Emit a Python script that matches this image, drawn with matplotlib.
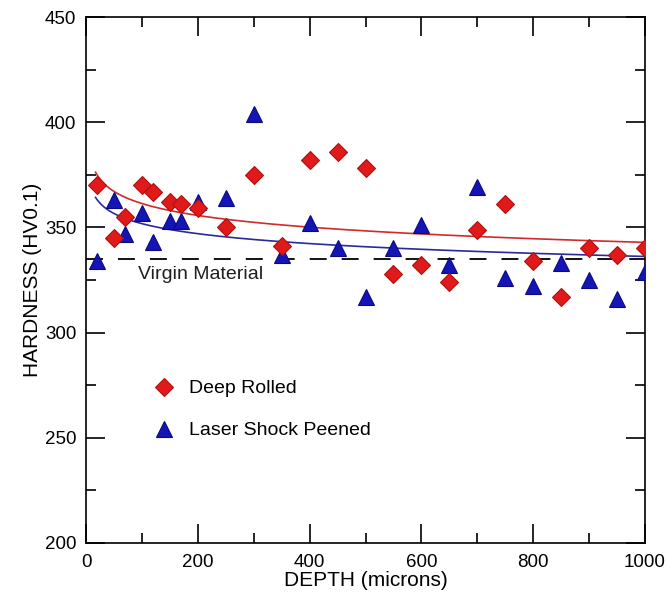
import numpy as np
import matplotlib
matplotlib.use("Agg")
import matplotlib.pyplot as plt
from matplotlib.ticker import MultipleLocator

plt.rcParams['font.family'] = ['Liberation Sans', 'DejaVu Sans']

# ---- data ----
dr_depth = [20, 50, 70, 100, 120, 150, 170, 200, 250, 300, 350, 400, 450, 500,
            550, 600, 650, 700, 750, 800, 850, 900, 950, 1000]
dr_hard = [370, 345, 355, 370, 367, 362, 361, 359, 350, 375, 341, 382, 386, 378,
           328, 332, 324, 349, 361, 334, 317, 340, 337, 340]

lsp_depth = [20, 50, 70, 100, 120, 150, 170, 200, 250, 300, 350, 400, 450, 500,
             550, 600, 650, 700, 750, 800, 850, 900, 950, 1000]
lsp_hard = [334, 363, 347, 357, 343, 353, 353, 362, 364, 404, 337, 352, 340, 317,
            340, 351, 332, 369, 326, 322, 333, 325, 316, 329]

virgin_hardness = 335
labels = ["Deep Rolled", "Laser Shock Peened"]

# ---- figure ----
fig = plt.figure(figsize=(6.67, 5.97), dpi=100)
ax = fig.add_axes([0.129, 0.0905, 0.838, 0.881])

# power-law trend fits
def powfit(x, y):
    b, loga = np.polyfit(np.log(x), np.log(y), 1)
    return np.exp(loga), b

xs = np.linspace(17, 1000, 400)
a, b = powfit(dr_depth, dr_hard)
ax.plot(xs, a * xs ** b, color='#d02a2a', lw=1.2, zorder=2)
a, b = powfit(lsp_depth, lsp_hard)
ax.plot(xs, a * xs ** b, color='#2a2a9a', lw=1.2, zorder=2)

ax.plot([0, 1000], [virgin_hardness, virgin_hardness], color='black', lw=1.3,
        dashes=(9.4, 8.3), zorder=1)
ax.text(93, 327.5, "Virgin Material", fontsize=14, color='#1e1e1e', va='center')

ax.plot(dr_depth, dr_hard, linestyle='none', marker='D', ms=9,
        mfc='#e01a1a', mec='#b01010', mew=0.8, zorder=4, label=labels[0])
ax.plot(lsp_depth, lsp_hard, linestyle='none', marker='^', ms=11,
        mfc='#1515b5', mec='#0a0a80', mew=0.8, zorder=3, label=labels[1])

ax.set_xlim(0, 1000)
ax.set_ylim(200, 450)
ax.xaxis.set_major_locator(MultipleLocator(200))
ax.xaxis.set_minor_locator(MultipleLocator(100))
ax.yaxis.set_major_locator(MultipleLocator(50))
ax.yaxis.set_minor_locator(MultipleLocator(25))
ax.tick_params(which='both', direction='in', top=True, right=True, width=1.2,
               labelsize=13.5, pad=7)
ax.tick_params(axis='x', which='both', pad=8)
ax.tick_params(which='major', length=14)
ax.tick_params(which='minor', length=7)
for s in ax.spines.values():
    s.set_linewidth(1.2)

ax.set_xlabel("DEPTH (microns)", fontsize=15, labelpad=0)
ax.set_ylabel("HARDNESS (HV0.1)", fontsize=15, labelpad=2)

ax.legend(loc='upper left', bbox_to_anchor=(0.09, 0.325), frameon=False,
          fontsize=14, labelspacing=1.25, handletextpad=0.3, borderaxespad=0)

fig.savefig("out.png", dpi=100)
